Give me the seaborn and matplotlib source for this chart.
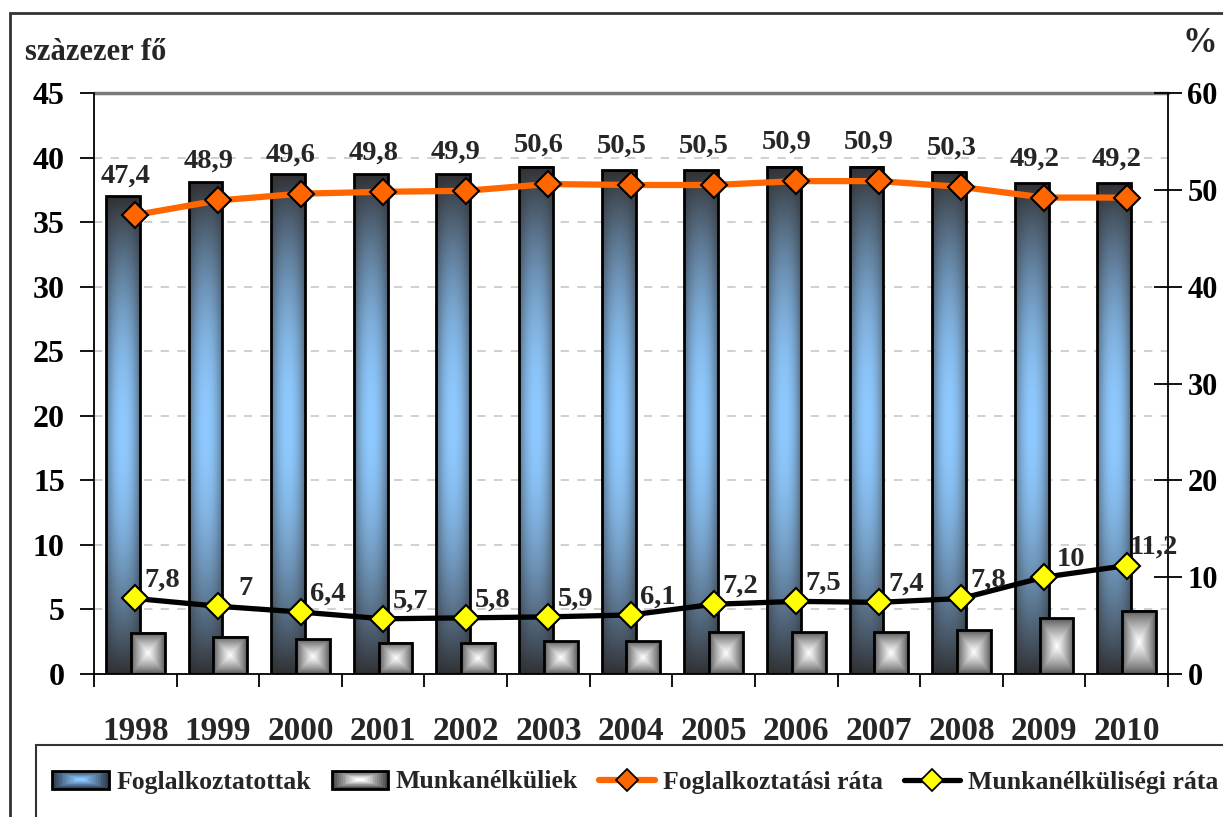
import numpy as np
import pandas as pd
import matplotlib
matplotlib.use("Agg")
import matplotlib.pyplot as plt
import seaborn as sns
from matplotlib.patches import Rectangle
from matplotlib.lines import Line2D
from matplotlib.legend_handler import HandlerBase
from matplotlib.ticker import FixedLocator

# ---- data -------------------------------------------------------------
years = ["1998", "1999", "2000", "2001", "2002", "2003", "2004",
         "2005", "2006", "2007", "2008", "2009", "2010"]
# hundred-thousand persons (left axis)
employed = [37.0, 38.1, 38.7, 38.7, 38.7, 39.3, 39.0, 39.0, 39.3, 39.3, 38.9, 38.0, 38.0]
unemployed = [3.2, 2.87, 2.71, 2.43, 2.43, 2.55, 2.55, 3.25, 3.25, 3.25, 3.4, 4.3, 4.9]
# percent (right axis)
employment_rate = [47.4, 48.9, 49.6, 49.8, 49.9, 50.6, 50.5, 50.5, 50.9, 50.9, 50.3, 49.2, 49.2]
unemployment_rate = [7.8, 7, 6.4, 5.7, 5.8, 5.9, 6.1, 7.2, 7.5, 7.4, 7.8, 10, 11.2]

bar_series = ["Foglalkoztatottak", "Munkanélküliek"]
line_series = ["Foglalkoztatási ráta", "Munkanélküliségi ráta"]

# ---- style ------------------------------------------------------------
sns.set_theme(style="white")
plt.rcParams["font.family"] = ["Liberation Serif", "DejaVu Serif"]
plt.rcParams["font.weight"] = "bold"

ORANGE = "#FF6600"
YELLOW = "#FFFF00"
W, H = 1223, 817

fig = plt.figure(figsize=(W / 100, H / 100), dpi=100)
ax = fig.add_axes([94 / W, 1 - 674 / H, (1168 - 94) / W, (674 - 93) / H])

df = pd.DataFrame({
    "year": years * 2,
    "series": [bar_series[0]] * len(years) + [bar_series[1]] * len(years),
    "value": employed + unemployed,
})
sns.barplot(data=df, x="year", y="value", hue="series", order=years,
            hue_order=bar_series, width=0.6, dodge=True, ax=ax, legend=False,
            palette=["#5d8ec2", "#b0b0b0"], saturation=1,
            edgecolor="black", linewidth=2)


def blue_fill(ny=200, nx=60):
    t = np.linspace(0, 1, ny)[:, None]
    u = np.linspace(0, 1, nx)[None, :]
    vert = np.sin(np.pi * t) ** 0.9
    horiz = 0.45 + 0.55 * (1 - np.abs(2 * u - 1) ** 2.2)
    f = np.clip(vert * horiz, 0, 1)[..., None]
    dark = np.array([0.19, 0.19, 0.20])
    light = np.array([0.56, 0.79, 1.0])
    return dark * (1 - f) + light * f


def gray_fill(n=60):
    t = np.linspace(0, 1, n)[:, None]
    u = np.linspace(0, 1, n)[None, :]
    f = 1 - np.maximum(np.abs(2 * t - 1), np.abs(2 * u - 1))
    f = np.clip(f, 0, 1)[..., None] ** 0.8
    dark = np.array([0.33, 0.33, 0.33])
    light = np.array([1.0, 1.0, 1.0])
    return dark * (1 - f) + light * f


fills = [blue_fill(), gray_fill()]
bar_w = 0.41
for level, container in enumerate(ax.containers):
    for bar in container:
        cx = bar.get_x() + bar.get_width() / 2
        bar.set_x(cx - bar_w / 2)
        bar.set_width(bar_w)
        x0, y0 = bar.get_x(), bar.get_y()
        z = 2 + level * 0.2
        ax.imshow(fills[level], extent=[x0, x0 + bar_w, y0, y0 + bar.get_height()],
                  origin="lower", aspect="auto", interpolation="bilinear", zorder=z)
        bar.set_facecolor("none")
        bar.set_zorder(z + 0.1)

ax.set_xlim(-0.5, len(years) - 0.5)
ax.set_ylim(0, 45)
ax.set_yticks(range(0, 46, 5))
ax.set_xlabel("")
ax.set_ylabel("")
ax.yaxis.grid(True, linestyle=(0, (5, 5)), color="#c8c8c8", linewidth=1.2)
ax.set_axisbelow(True)
ax.axhline(45, color="#7a7a7a", lw=2.5, zorder=1.5, clip_on=False)

for side in ["left", "right", "bottom"]:
    ax.spines[side].set_color("black")
    ax.spines[side].set_linewidth(1.3)
ax.spines["top"].set_visible(False)

ax.tick_params(axis="y", direction="out", length=10, width=1.3, pad=11,
               labelsize=23, colors="black", left=True)
ax.tick_params(axis="x", which="major", length=0, pad=30, labelsize=24)
ax.xaxis.set_minor_locator(FixedLocator(np.arange(-0.5, len(years), 1.0)))
ax.tick_params(axis="x", which="minor", direction="out", length=9, width=1.3,
               bottom=True, color="black")

# ---- rates on the secondary axis -------------------------------------
ax2 = ax.twinx()
pos = np.arange(len(years))
sns.lineplot(x=pos, y=employment_rate, ax=ax2, color=ORANGE, lw=4.5,
             marker="D", markersize=13, markerfacecolor=ORANGE,
             markeredgecolor="black", markeredgewidth=1.5, zorder=5)
sns.lineplot(x=pos, y=unemployment_rate, ax=ax2, color="black", lw=3.8,
             marker="D", markersize=13, markerfacecolor=YELLOW,
             markeredgecolor="black", markeredgewidth=1.5, zorder=5)
ax2.set_ylim(0, 60)
ax2.set_yticks(range(0, 61, 10))
ax2.set_xlim(-0.5, len(years) - 0.5)
for side in ["left", "right", "bottom", "top"]:
    ax2.spines[side].set_visible(False)
ax2.tick_params(axis="y", direction="inout", length=20, width=1.3, pad=4,
                labelsize=22, colors="black", right=True)


def fmt(v):
    return f"{v:g}".replace(".", ",")


for i, v in enumerate(employment_rate):
    ax2.annotate(fmt(v), (i, v), xytext=(-7, 28), textcoords="offset points",
                 ha="center", va="center", fontsize=20.5, zorder=6)
for i, v in enumerate(unemployment_rate):
    ax2.annotate(fmt(v), (i, v), xytext=(19.5, 13), textcoords="offset points",
                 ha="center", va="center", fontsize=20.5, zorder=6)

# ---- axis captions ----------------------------------------------------
fig.text(25 / W, 1 - 52 / H, "szàzezer fő", fontsize=22, ha="left", va="center")
fig.text(1200 / W, 1 - 44 / H, "%", fontsize=25, ha="center", va="center")

# ---- frames -----------------------------------------------------------
fig.add_artist(Rectangle((10 / W, -0.2), 1.5, (1 - 13 / H) + 0.2,
                         transform=fig.transFigure, fill=False,
                         edgecolor="#333333", lw=2))
fig.add_artist(Rectangle((36 / W, -0.2), 1.5, (1 - 745 / H) + 0.2,
                         transform=fig.transFigure, fill=False,
                         edgecolor="#333333", lw=1.5))


# ---- legend -----------------------------------------------------------
class GradientBox(HandlerBase):
    def __init__(self, edge, center, steps=14):
        super().__init__()
        self.edge = np.array(matplotlib.colors.to_rgb(edge))
        self.center = np.array(matplotlib.colors.to_rgb(center))
        self.steps = steps

    def create_artists(self, legend, orig_handle, xdescent, ydescent,
                       width, height, fontsize, trans):
        arts = []
        for k in range(self.steps):
            f = k / (self.steps - 1)
            ix = f * width / 2 * 0.85
            iy = f * height / 2 * 0.85
            col = self.edge * (1 - f) + self.center * f
            arts.append(Rectangle((-xdescent + ix, -ydescent + iy),
                                  width - 2 * ix, height - 2 * iy,
                                  facecolor=col, edgecolor="none", transform=trans))
        arts.append(Rectangle((-xdescent, -ydescent), width, height,
                              facecolor="none", edgecolor="black", lw=2,
                              transform=trans))
        return arts


h_emp = Rectangle((0, 0), 1, 1)
h_unemp = Rectangle((0, 0), 1, 1)
h_rate1 = Line2D([], [], color=ORANGE, lw=4.5, marker="D", markersize=11,
                 markerfacecolor=ORANGE, markeredgecolor="black", markeredgewidth=1.3)
h_rate2 = Line2D([], [], color="black", lw=3.8, marker="D", markersize=11,
                 markerfacecolor=YELLOW, markeredgecolor="black", markeredgewidth=1.3)
fig.legend([h_emp, h_unemp, h_rate1, h_rate2], bar_series + line_series,
           handler_map={h_emp: GradientBox("#2e3b4c", "#8cc6ff"),
                        h_unemp: GradientBox("#404040", "#ffffff")},
           ncol=4, loc="center left", bbox_to_anchor=(42 / W, 1 - 782 / H),
           frameon=False, fontsize=18.5, handlelength=2.2, handleheight=0.7,
           handletextpad=0.3, columnspacing=0.8, borderaxespad=0)

fig.savefig("out.png", dpi=100)
